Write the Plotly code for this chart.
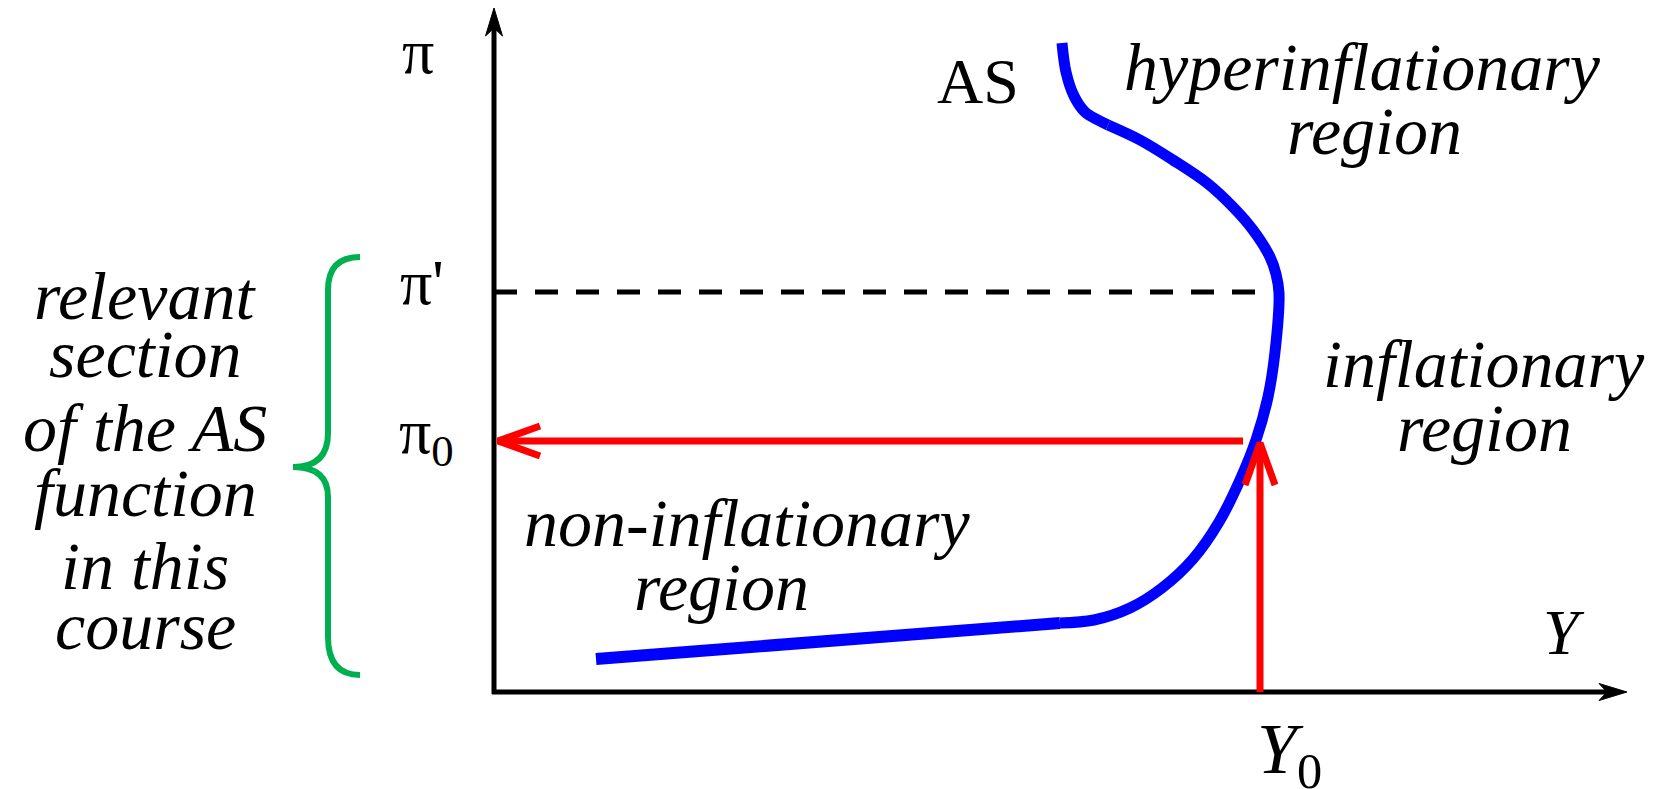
import plotly.graph_objects as go

# diagram units: pixels measured from where the Y and pi axes meet
axis_y_top = 684
axis_x_right = 1133

# AS curve, in three pieces (flat part, inflationary bend, hyperinflationary hook)
flat_y = [102, 566]
flat_pi = [33, 69]
bend_y = [566, 600, 636, 668, 699, 725, 746, 762, 774, 781, 785, 782, 776, 759, 739, 713, 679, 646, 614]
bend_pi = [69, 72, 84, 104, 133, 170, 212, 252, 295, 340, 399, 418, 435, 462, 485, 509, 532, 552, 567]
hook_y = [614, 604, 591, 580, 572, 568]
hook_pi = [567, 572, 580, 596, 620, 649]

pi_0 = 251
pi_prime = 400
y_0 = 766
red_h_start = 749
red_h_tip = 4
red_v_tip = 249
dash_end = 763

# curly brace on the left (start, control, end for each quadratic piece)
brace_x = [-134, -166, -166, -166, -166, -201, -166, -166, -166, -166, -134]
brace_y = [435, 435, 402, 259, 225, 225, 225, 195, 55, 17, 17]

left_lines = ["relevant", "section", "of the AS", "function", "in this", "course"]
left_line_y = [396, 338, 264, 199, 126, 66]
left_x = -349

FONT = "Liberation Serif"
BLACK = "#000000"
BLUE = "#0000ff"
RED = "#ff0000"
GREEN = "#00b050"

fig = go.Figure()

# axes with stealth arrowheads
hl, hw, notch = 28, 8.5, 20
fig.add_trace(go.Scatter(x=[0, 0], y=[-2, axis_y_top - notch], mode="lines",
                         line=dict(color=BLACK, width=5)))
fig.add_trace(go.Scatter(x=[-2, axis_x_right - notch], y=[0, 0], mode="lines",
                         line=dict(color=BLACK, width=5)))
fig.add_trace(go.Scatter(
    x=[0, -hw, 0, hw, 0],
    y=[axis_y_top, axis_y_top - hl, axis_y_top - notch, axis_y_top - hl, axis_y_top],
    mode="lines", fill="toself", fillcolor=BLACK, line=dict(color=BLACK, width=1)))
fig.add_trace(go.Scatter(
    x=[axis_x_right, axis_x_right - hl, axis_x_right - notch, axis_x_right - hl, axis_x_right],
    y=[0, hw, 0, -hw, 0],
    mode="lines", fill="toself", fillcolor=BLACK, line=dict(color=BLACK, width=1)))

# dashed pi' line
fig.add_trace(go.Scatter(x=[0, dash_end], y=[pi_prime, pi_prime], mode="lines",
                         line=dict(color=BLACK, width=5, dash="23px,18px")))

# AS curve
fig.add_trace(go.Scatter(x=flat_y, y=flat_pi, mode="lines",
                         line=dict(color=BLUE, width=12)))
fig.add_trace(go.Scatter(x=bend_y, y=bend_pi, mode="lines",
                         line=dict(color=BLUE, width=11, shape="spline", smoothing=1)))
fig.add_trace(go.Scatter(x=hook_y, y=hook_pi, mode="lines",
                         line=dict(color=BLUE, width=11, shape="spline", smoothing=1)))

# red arrows
ah_len, ah_w = 42, 15
fig.add_trace(go.Scatter(x=[red_h_start, red_h_tip], y=[pi_0, pi_0], mode="lines",
                         line=dict(color=RED, width=7)))
fig.add_trace(go.Scatter(
    x=[red_h_tip + ah_len, red_h_tip, red_h_tip + ah_len],
    y=[pi_0 + ah_w, pi_0, pi_0 - ah_w],
    mode="lines", line=dict(color=RED, width=7)))
fig.add_trace(go.Scatter(x=[y_0, y_0], y=[0, red_v_tip], mode="lines",
                         line=dict(color=RED, width=7)))
fig.add_trace(go.Scatter(
    x=[y_0 - ah_w, y_0, y_0 + ah_w],
    y=[red_v_tip - ah_len, red_v_tip, red_v_tip - ah_len],
    mode="lines", line=dict(color=RED, width=7)))

# brace as a path of quadratic curves
p = list(zip(brace_x, brace_y))
path = (f"M {p[0][0]},{p[0][1]} Q {p[1][0]},{p[1][1]} {p[2][0]},{p[2][1]} "
        f"L {p[3][0]},{p[3][1]} Q {p[4][0]},{p[4][1]} {p[5][0]},{p[5][1]} "
        f"Q {p[6][0]},{p[6][1]} {p[7][0]},{p[7][1]} "
        f"L {p[8][0]},{p[8][1]} Q {p[9][0]},{p[9][1]} {p[10][0]},{p[10][1]}")
fig.add_shape(type="path", path=path, xref="x", yref="y",
              line=dict(color=GREEN, width=6))


def label(x, y, text, size=68, italic=False):
    fig.add_annotation(x=x, y=y, xref="x", yref="y", text=text, showarrow=False,
                       xanchor="center", yanchor="middle",
                       font=dict(family=FONT, size=size, color=BLACK,
                                 style="italic" if italic else "normal"))


label(-76, 641, "π", size=64)
label(-72, 410, "π'", size=64)
label(-68, 256, "π<sub>0</sub>", size=64)
label(484, 611, "AS", size=64)
label(868, 625, "hyperinflationary", italic=True)
label(880, 561, "region", italic=True)
label(990, 328, "inflationary", italic=True)
label(990, 264, "region", italic=True)
label(253, 169, "non-inflationary", italic=True)
label(227, 105, "region", italic=True)
label(1070, 60, "Y", size=64, italic=True)
label(795, -62, "<i>Y</i><sub>0</sub>", size=72)
for txt, yy in zip(left_lines, left_line_y):
    label(left_x, yy, txt, italic=True)

fig.update_layout(
    width=1662, height=789,
    margin=dict(l=0, r=0, t=0, b=0),
    paper_bgcolor="white", plot_bgcolor="white",
    showlegend=False,
    xaxis=dict(range=[-494, 1168], visible=False, fixedrange=True),
    yaxis=dict(range=[-97, 692], visible=False, fixedrange=True),
)

fig.write_html("out.html", config={"displayModeBar": False},
               post_script="document.body.style.margin='0px';")
